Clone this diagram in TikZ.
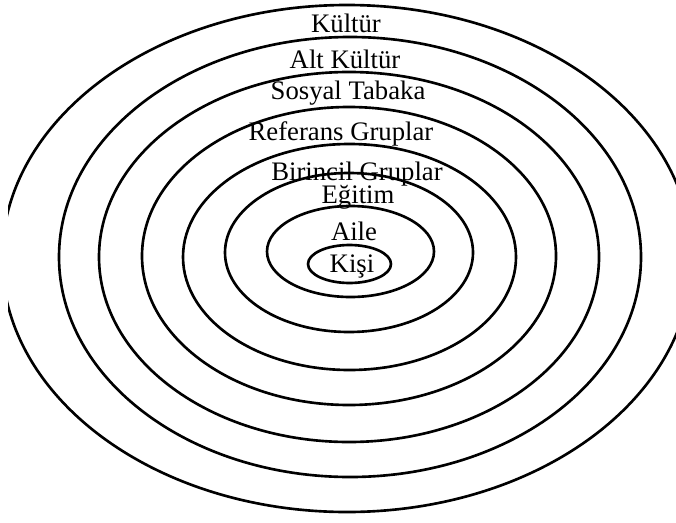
\documentclass[tikz,border=0pt]{standalone}
\usepackage{fontspec}
\setmainfont{Liberation Serif}
\begin{document}
\begin{tikzpicture}[line width=0.75pt, every node/.style={font=\fontsize{7.6}{9}\selectfont, inner sep=0pt}]

    \useasboundingbox (0, 0) rectangle (6.76, 5.22);

    % en dış halka (kenarda kesik)
    \begin{scope}
      \clip (0.08, 0) rectangle (6.76, 5.22);
      \draw (3.47, 2.635) ellipse (3.45 and 2.535);
    \end{scope}

    % iç halkalar
    \draw (3.50, 2.65) ellipse (2.91 and 2.20);
    \draw (3.49, 2.65) ellipse (2.50 and 1.85);
    \draw (3.49, 2.66) ellipse (2.07 and 1.49);
    \draw (3.495, 2.65) ellipse (1.665 and 1.13);
    \draw (3.49, 2.695) ellipse (1.24 and 0.795);
    \draw (3.505, 2.705) ellipse (0.835 and 0.455);
    \draw (3.495, 2.58) ellipse (0.415 and 0.19);

    % halka adları
    \node[anchor=base] (kultur)    at (3.46, 4.89) {Kültür};
    \node[anchor=base] (altkultur) at (3.45, 4.54) {Alt Kültür};
    \node[anchor=base] (sosyal)    at (3.48, 4.22) {Sosyal Tabaka};
    \node[anchor=base] (referans)  at (3.41, 3.82) {Referans Gruplar};
    \node[anchor=base] (birincil)  at (3.57, 3.42) {Birincil Gruplar};
    \node[anchor=base] (egitim)    at (3.58, 3.19) {Eğitim};
    \node[anchor=base] (aile)      at (3.54, 2.82) {Aile};
    \node[anchor=base] (kisi)      at (3.52, 2.50) {Kişi};

  \end{tikzpicture}
\end{document}
